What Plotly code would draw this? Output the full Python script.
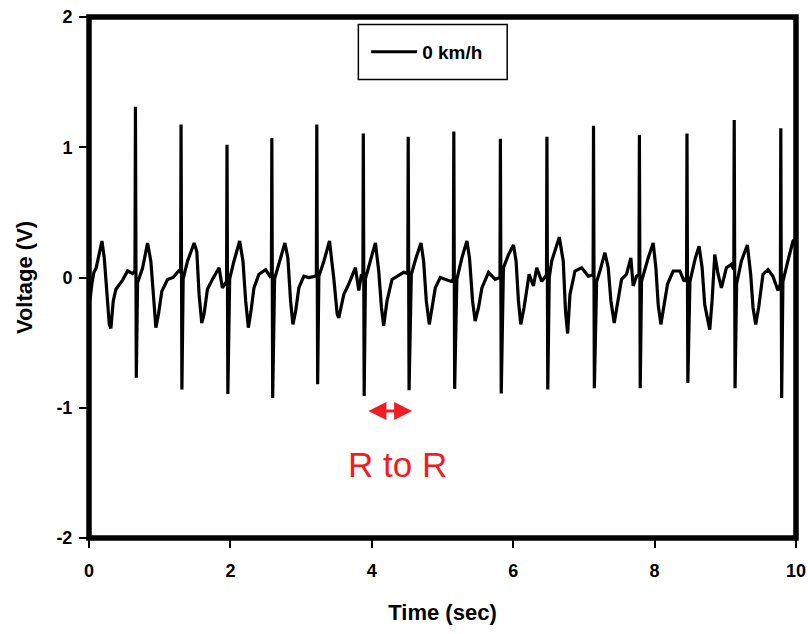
import plotly.graph_objects as go

# ECG-like voltage trace (time in sec, voltage in V)
time_sec = [
    0.000, 0.015, 0.040, 0.070, 0.100, 0.140, 0.183, 0.216, 0.249, 0.287, 0.310, 0.343, 0.381, 0.430, 0.475, 0.546, 0.616, 0.650,
    0.657, 0.669, 0.687,
    0.757, 0.828, 0.875, 0.913, 0.946, 0.983, 1.030, 1.110, 1.190, 1.266, 1.296,
    1.302, 1.314, 1.332,
    1.393, 1.487, 1.525, 1.557, 1.595, 1.628, 1.675, 1.745, 1.840, 1.887, 1.925, 1.946,
    1.952, 1.964, 1.990,
    2.050, 2.131, 2.178, 2.216, 2.254, 2.291, 2.333, 2.404, 2.498, 2.560, 2.580,
    2.586, 2.598, 2.625,
    2.687, 2.771, 2.813, 2.851, 2.884, 2.922, 2.968, 3.039, 3.110, 3.195, 3.216,
    3.222, 3.234, 3.251,
    3.322, 3.402, 3.463, 3.510, 3.533, 3.604, 3.674, 3.768, 3.816, 3.854, 3.874,
    3.880, 3.892, 3.910,
    4.004, 4.051, 4.098, 4.136, 4.168, 4.215, 4.286, 4.357, 4.451, 4.509,
    4.515, 4.527, 4.559,
    4.625, 4.696, 4.733, 4.771, 4.813, 4.850, 4.898, 4.968, 5.062, 5.123, 5.154,
    5.160, 5.172, 5.203,
    5.274, 5.345, 5.382, 5.425, 5.462, 5.510, 5.557, 5.651, 5.745, 5.813,
    5.819, 5.831, 5.862,
    5.933, 6.004, 6.041, 6.074, 6.107, 6.154, 6.192, 6.225, 6.286, 6.333, 6.403, 6.450, 6.471,
    6.477, 6.489, 6.510,
    6.544, 6.652, 6.708, 6.740, 6.770, 6.803, 6.874, 6.968, 7.062, 7.130,
    7.136, 7.148, 7.180,
    7.227, 7.297, 7.344, 7.382, 7.429, 7.476, 7.532, 7.603, 7.664, 7.697, 7.744, 7.779,
    7.785, 7.797, 7.815,
    7.909, 7.980, 8.018, 8.051, 8.089, 8.131, 8.183, 8.263, 8.357, 8.418, 8.452,
    8.458, 8.470, 8.500,
    8.577, 8.629, 8.672, 8.709, 8.780, 8.813, 8.851, 8.898, 8.945, 9.016, 9.086, 9.120,
    9.126, 9.138, 9.160,
    9.227, 9.312, 9.359, 9.392, 9.430, 9.472, 9.533, 9.604, 9.674, 9.745, 9.779,
    9.785, 9.797, 9.815,
    9.896, 9.957, 10.000,
]
voltage_v = [
    -0.10, -0.17, -0.05, 0.04, 0.07, 0.18, 0.28, 0.15, -0.08, -0.36, -0.39, -0.18, -0.09, -0.05, -0.02, 0.05, 0.03, 0.05,
    1.31, -0.77, -0.04,
    0.07, 0.265, 0.125, -0.18, -0.385, -0.28, -0.105, -0.015, 0.00, 0.05, 0.04,
    1.175, -0.86, -0.01,
    0.125, 0.265, 0.20, -0.13, -0.35, -0.28, -0.09, -0.015, 0.075, -0.08, -0.05, -0.03,
    1.02, -0.895, -0.01,
    0.125, 0.28, 0.125, -0.18, -0.385, -0.26, -0.08, 0.025, 0.06, 0.01, 0.02,
    1.07, -0.925, -0.01,
    0.10, 0.265, 0.15, -0.18, -0.36, -0.26, -0.08, 0.01, 0.00, 0.01, 0.02,
    1.175, -0.82, 0.01,
    0.125, 0.28, -0.01, -0.28, -0.31, -0.13, -0.05, 0.075, -0.10, 0.025, 0.01,
    1.105, -0.91, -0.01,
    0.176, 0.265, 0.05, -0.23, -0.37, -0.18, -0.015, 0.01, 0.04, 0.03,
    1.08, -0.865, 0.025,
    0.15, 0.265, 0.125, -0.18, -0.36, -0.23, -0.08, 0.00, -0.015, -0.03, -0.01,
    1.12, -0.855, -0.015,
    0.15, 0.28, 0.15, -0.18, -0.335, -0.23, -0.08, 0.04, -0.015, 0.00,
    1.065, -0.89, 0.075,
    0.176, 0.25, 0.125, -0.18, -0.36, -0.23, -0.08, 0.025, -0.065, 0.075, -0.03, 0.01, 0.02,
    1.08, -0.86, 0.00,
    0.125, 0.31, 0.125, -0.26, -0.43, -0.13, 0.05, 0.075, 0.01, 0.02,
    1.165, -0.85, -0.03,
    0.05, 0.19, 0.075, -0.18, -0.35, -0.18, -0.015, 0.025, 0.15, -0.065, 0.01, 0.02,
    1.095, -0.85, -0.03,
    0.15, 0.265, 0.075, -0.21, -0.36, -0.23, -0.05, 0.05, 0.05, -0.03, 0.00,
    1.105, -0.81, -0.03,
    0.15, 0.24, 0.075, -0.21, -0.40, -0.18, 0.176, 0.025, -0.08, 0.075, 0.10, 0.06,
    1.21, -0.85, -0.05,
    0.125, 0.25, 0.025, -0.23, -0.36, -0.23, 0.025, 0.06, 0.01, -0.10, -0.05,
    1.145, -0.925, -0.03,
    0.15, 0.28, 0.30,
]

x_ticks = [0, 2, 4, 6, 8, 10]
y_ticks = [-2, -1, 0, 1, 2]
series_name = "0 km/h"
rr_start, rr_end, rr_level = 3.93, 4.57, -1.025
rr_label = "R to R"
rr_label_x, rr_label_y = 4.37, -1.437

RED = "#EE1C25"
BOLD = dict(family="Liberation Sans, Arial, sans-serif", color="black", weight="bold")

fig = go.Figure()
fig.add_trace(go.Scatter(
    x=time_sec, y=voltage_v, mode="lines", name=series_name,
    line=dict(color="black", width=3.2), showlegend=True,
))

fig.update_layout(
    width=808, height=634,
    margin=dict(l=88.6, r=12, t=16.5, b=95.5, autoexpand=False),
    paper_bgcolor="white", plot_bgcolor="white",
    showlegend=True,
    legend=dict(
        x=0.392, y=0.933, xanchor="left", yanchor="middle",
        bgcolor="rgba(0,0,0,0)", borderwidth=0, itemwidth=46,
        font=dict(size=19, **BOLD),
    ),
    xaxis=dict(
        range=[0, 10], tickvals=x_ticks, ticktext=[str(v) for v in x_ticks],
        showgrid=False, zeroline=False, showline=False, automargin=False,
        ticks="outside", ticklen=9, tickwidth=1.5, tickcolor="black",
        ticklabelstandoff=7,
        tickfont=dict(size=18, **BOLD),
        title=dict(text="Time (sec)", font=dict(size=22, **BOLD), standoff=25),
    ),
    yaxis=dict(
        range=[-2, 2], tickvals=y_ticks, ticktext=[str(v) for v in y_ticks],
        showgrid=False, zeroline=False, showline=False, automargin=False,
        ticks="outside", ticklen=9, tickwidth=1.5, tickcolor="black",
        ticklabelstandoff=3,
        tickfont=dict(size=18, **BOLD),
        title=dict(text="Voltage (V)", font=dict(size=22, **BOLD), standoff=17),
    ),
    shapes=[
        dict(type="rect", xref="paper", yref="paper", x0=0, x1=1, y0=0, y1=1,
             line=dict(color="black", width=5.5), layer="above"),
        dict(type="rect", xref="paper", yref="paper", x0=0.381, x1=0.5915, y0=0.880, y1=0.9856,
             line=dict(color="black", width=1.5), layer="above"),
    ],
    annotations=[
        dict(x=rr_end, y=rr_level, ax=rr_start, ay=rr_level, xref="x", yref="y",
             axref="x", ayref="y", text="", showarrow=True,
             arrowhead=2, arrowside="end+start", arrowsize=1.2, arrowwidth=3, arrowcolor=RED),
        dict(x=rr_label_x, y=rr_label_y, xref="x", yref="y", text=rr_label,
             showarrow=False, font=dict(family="Liberation Sans, Arial, sans-serif", size=35, color=RED)),
    ],
)

fig.write_html("out.html", config={"displayModeBar": False},
               post_script="document.body.style.margin='0';")
